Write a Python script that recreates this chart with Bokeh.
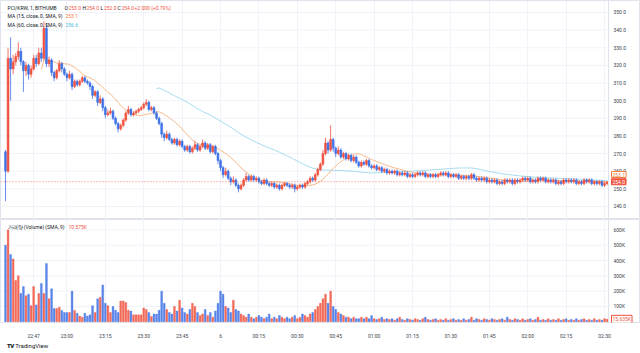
import pandas as pd
from bokeh.plotting import figure
from bokeh.layouts import column
from bokeh.models import ColumnDataSource, FixedTicker, Label, Span, Div, Range1d
from bokeh.core.properties import value
from bokeh.embed import file_html
from bokeh.resources import INLINE

# ---------------- data (1-minute candles, PCI/KRW, from 22:36) ----------------
first_open = 271
close = [
    260, 324, 318, 322, 325, 328, 322, 317, 320, 315,
    318, 324, 321, 327, 324, 341, 321, 323, 316, 313,
    317, 321, 318, 315, 313, 315, 308, 311, 309, 311,
    313, 311, 310, 308, 303, 305, 299, 301, 296, 292,
    293, 294, 290, 287, 284, 286, 289, 293, 295, 292,
    293, 294, 295, 296, 298, 299, 295, 296, 293, 290,
    287, 281, 279, 281, 278, 276, 278, 275, 277, 274,
    272, 274, 271, 273, 275, 272, 274, 276, 273, 275,
    271, 274, 270, 266, 262, 258, 260, 256, 254, 255,
    252, 250, 252, 255, 257, 255, 257, 255, 256, 254,
    253, 255, 253, 252, 253, 251, 252, 250, 252, 253,
    252, 251, 252, 250, 251, 252, 251, 253, 254, 256,
    255, 258, 261, 264, 270, 276, 272, 278, 273, 270,
    272, 268, 270, 267, 269, 266, 268, 265, 263, 265,
    264, 266, 263, 262, 263, 261, 262, 260, 261, 259,
    260, 259, 260, 258, 259, 258, 259, 257, 258, 257,
    258, 259, 258, 259, 257, 258, 257, 258, 257, 258,
    259, 258, 259, 257, 258, 257, 258, 256, 257, 256,
    257, 256, 258, 256, 255, 256, 255, 256, 254, 255,
    254, 255, 253, 254, 253, 255, 254, 255, 253, 255,
    254, 255, 256, 255, 256, 254, 255, 254, 256, 255,
    256, 254, 255, 254, 255, 253, 254, 253, 255, 254,
    255, 254, 255, 253, 254, 253, 255, 254, 255, 253,
    254, 253, 254, 252, 253, 254,
]
high = [
    272, 330, 336, 326, 327, 333, 330, 323, 322, 321,
    320, 326, 326, 330, 330, 345, 344, 325, 324, 317,
    318, 323, 322, 319, 316, 317, 316, 312, 312, 312,
    314, 314, 312, 311, 309, 306, 306, 303, 302, 297,
    295, 296, 295, 291, 288, 287, 290, 294, 297, 296,
    294, 295, 296, 297, 299, 301, 300, 297, 297, 294,
    291, 288, 282, 283, 282, 279, 279, 279, 278, 278,
    275, 275, 275, 274, 277, 276, 275, 278, 277, 276,
    276, 275, 275, 271, 267, 263, 262, 261, 257, 257,
    256, 253, 253, 256, 259, 258, 258, 258, 257, 257,
    255, 256, 256, 254, 254, 254, 253, 253, 253, 254,
    254, 253, 253, 253, 252, 253, 253, 254, 255, 257,
    257, 259, 262, 265, 272, 279, 277, 286, 279, 274,
    274, 273, 271, 271, 270, 270, 269, 269, 266, 266,
    266, 267, 267, 264, 264, 264, 263, 263, 262, 262,
    261, 261, 261, 261, 260, 260, 260, 260, 259, 259,
    259, 260, 260, 260, 260, 259, 259, 259, 259, 259,
    260, 260, 260, 260, 259, 259, 259, 259, 258, 258,
    258, 258, 259, 259, 257, 257, 257, 257, 257, 256,
    256, 256, 256, 255, 255, 256, 256, 256, 256, 256,
    256, 256, 257, 257, 257, 257, 256, 256, 257, 257,
    257, 257, 256, 256, 256, 256, 255, 255, 256, 256,
    256, 256, 256, 256, 255, 255, 256, 256, 256, 256,
    255, 255, 255, 255, 254, 254,
]
low = [
    243, 259, 300, 315, 320, 323, 320, 305, 314, 312,
    313, 317, 319, 320, 322, 323, 319, 319, 314, 311,
    312, 316, 316, 314, 311, 312, 306, 307, 308, 308,
    310, 310, 309, 306, 301, 302, 297, 298, 294, 290,
    291, 292, 289, 286, 282, 283, 285, 288, 292, 291,
    291, 292, 293, 294, 295, 297, 294, 294, 292, 289,
    286, 279, 277, 278, 277, 275, 275, 274, 274, 273,
    271, 271, 270, 270, 272, 271, 271, 273, 272, 272,
    270, 270, 269, 264, 260, 256, 257, 255, 252, 253,
    251, 248, 249, 251, 254, 254, 254, 254, 254, 253,
    252, 252, 252, 251, 251, 250, 250, 249, 249, 251,
    251, 250, 250, 248, 249, 250, 250, 250, 252, 253,
    254, 254, 257, 260, 263, 269, 270, 271, 271, 268,
    269, 267, 267, 266, 266, 265, 265, 264, 262, 262,
    263, 263, 262, 261, 261, 260, 260, 259, 259, 258,
    258, 258, 258, 257, 257, 257, 257, 256, 256, 256,
    256, 257, 257, 257, 256, 256, 256, 256, 256, 256,
    257, 257, 257, 256, 256, 256, 256, 255, 255, 255,
    255, 255, 255, 255, 254, 254, 254, 254, 253, 253,
    253, 253, 252, 252, 252, 252, 253, 253, 252, 252,
    253, 253, 254, 254, 254, 253, 253, 253, 253, 254,
    254, 253, 253, 253, 253, 252, 252, 252, 252, 253,
    253, 253, 253, 252, 252, 252, 252, 253, 253, 252,
    252, 252, 252, 251, 251, 252,
]
volume_k = [
    500, 600, 440, 410, 270, 300, 185, 230, 170, 180,
    105, 230, 110, 185, 250, 185, 380, 150, 215, 86,
    86, 95, 74, 60, 60, 60, 200, 74, 55, 37,
    30, 55, 37, 45, 105, 60, 150, 160, 240, 120,
    105, 60, 100, 75, 60, 135, 135, 125, 75, 70,
    45, 45, 45, 45, 90, 80, 60, 35, 50, 50,
    75, 200, 120, 80, 60, 50, 100, 70, 140, 90,
    60, 50, 80, 120, 100, 60, 40, 50, 80, 40,
    60, 30, 70, 120, 200, 180, 100, 90, 60, 140,
    80, 70, 50, 40, 30, 50, 30, 20, 30, 40,
    30, 20, 30, 50, 20, 30, 20, 40, 30, 20,
    30, 20, 30, 40, 20, 30, 50, 40, 30, 50,
    60, 80, 100, 120, 150, 180, 120, 200, 100, 80,
    60, 50, 40, 30, 30, 20, 30, 20, 20, 30,
    20, 30, 20, 40, 20, 15, 20, 30, 15, 20,
    15, 20, 10, 20, 30, 15, 10, 20, 15, 10,
    20, 15, 10, 20, 30, 15, 10, 15, 20, 10,
    15, 10, 20, 10, 15, 20, 10, 15, 10, 20,
    10, 15, 30, 10, 20, 15, 10, 20, 15, 10,
    20, 15, 10, 15, 20, 10, 30, 15, 10, 20,
    15, 10, 20, 10, 15, 20, 10, 15, 30, 10,
    15, 10, 20, 10, 15, 10, 20, 10, 15, 20,
    10, 15, 10, 20, 10, 15, 20, 10, 15, 10,
    20, 10, 15, 10, 20, 15.635,
]
time_ticks = [11, 24, 39, 54, 69, 84, 99, 114, 129, 144, 159, 174, 189, 204, 219, 234]
time_labels = ["22:47", "23:00", "23:15", "23:30", "23:45", "6", "00:15", "00:30",
               "00:45", "01:00", "01:15", "01:30", "01:45", "02:00", "02:15", "02:30"]
price_ticks = [240, 250, 260, 270, 280, 290, 300, 310, 320, 330, 340, 350]
price_tick_labels = ["240.0", "250.0", "260.0", "270.0", "280.0", "290.0",
                     "300.0", "310.0", "320.0", "330.0", "340.0", "350.0"]
vol_ticks = [100, 200, 300, 400, 500, 600]
vol_tick_labels = ["100K", "200K", "300K", "400K", "500K", "600K"]
last_price = 254.0
ma15_last = 253.1

# ---------------- styling ----------------
UP = "#f0533f"
DOWN = "#3f72e5"
TXT = "#131722"
AXTXT = "#3b3f4a"
GRID = "#f0f3fa"
BORDER = "#e0e3eb"
FONT = "Roboto"
FS = "5px"

n = len(close)
xs = list(range(n))
opens = [first_open] + close[:-1]
colors = [UP if c >= o else DOWN for o, c in zip(opens, close)]
tops = [max(o, c) for o, c in zip(opens, close)]
bots = [min(o, c) for o, c in zip(opens, close)]
ma15 = pd.Series(close, dtype=float).rolling(15).mean()
ma60 = pd.Series(close, dtype=float).rolling(60).mean()

src = ColumnDataSource(dict(x=xs, o=opens, c=close, h=high, l=low, top=tops, bot=bots,
                            col=colors, vol=volume_k, ma15=ma15, ma60=ma60))

W = 640
PXU = 2.56                       # pixels per minute
XR = Range1d(-1.95, -1.95 + W / PXU)
PANE_R = 608                     # right edge of the plotting pane (px)
AX_X = 613                       # left edge of the scale labels (px)
H1 = 219
H2F = 109
P_LO, P_HI = 232.6, 356.8
V_LO, V_HI = -5, 668


def px_to_x(px):
    return XR.start + px / PXU


def py_to_price(py):
    return P_HI - py * (P_HI - P_LO) / H1


def py_to_vol(py):
    return V_HI - (py - H1) * (V_HI - V_LO) / H2F


def lab(fig, px, y, text, color=TXT, size=FS, **kw):
    fig.add_layout(Label(x=px_to_x(px), y=y, text=text, text_color=color,
                         text_font=FONT, text_font_size=size, text_align="left",
                         text_baseline="middle", **kw))


# ================= price pane =================
p1 = figure(width=W, height=H1, x_range=XR, y_range=Range1d(P_LO, P_HI),
            output_backend="svg", toolbar_location=None,
            x_axis_location=None, y_axis_location=None,
            min_border_left=0, min_border_right=0, min_border_top=0, min_border_bottom=0)
p1.xgrid.ticker = FixedTicker(ticks=time_ticks)
p1.xgrid.grid_line_color = GRID
p1.ygrid.grid_line_color = None
p1.outline_line_color = BORDER

# horizontal grid lines limited to the pane, scale border
p1.segment(x0=XR.start, x1=px_to_x(PANE_R), y0=price_ticks, y1=price_ticks,
           line_color=GRID, line_width=1)
p1.add_layout(Span(location=px_to_x(PANE_R), dimension="height",
                   line_color=BORDER, line_width=1))

p1.line("x", "ma60", source=src, line_color="#8fd3e8", line_width=1, line_alpha=0.8)
p1.line("x", "ma15", source=src, line_color="#f8a86a", line_width=1, line_alpha=0.8)
p1.segment("x", "h", "x", "l", source=src, line_color="col", line_width=0.8)
p1.vbar(x="x", width=0.72, top="top", bottom="bot", source=src,
        fill_color="col", line_color="col", line_width=0.6)

# last price dotted line
p1.segment(x0=[XR.start], x1=[px_to_x(PANE_R)], y0=[last_price], y1=[last_price],
           line_color=UP, line_dash="1 2", line_width=1, line_alpha=0.8)

# price scale labels
p1.text(x=[px_to_x(AX_X)] * len(price_ticks), y=price_ticks, text=price_tick_labels,
        text_font=value(FONT), text_font_size=value(FS), text_color=AXTXT,
        text_align="left", text_baseline="middle")

# legend rows
r1 = py_to_price(7)
lab(p1, 7, r1, "PCI/KRW, 1, BITHUMB")
lab(p1, 64, r1, "O")
lab(p1, 68, r1, "253.0", UP)
lab(p1, 82, r1, "H")
lab(p1, 86, r1, "254.0", UP)
lab(p1, 100, r1, "L")
lab(p1, 103.5, r1, "252.0", UP)
lab(p1, 117, r1, "C")
lab(p1, 121, r1, "254.0", UP)
lab(p1, 134, r1, "+2.000 (+0.79%)", UP)
r2 = py_to_price(15.5)
lab(p1, 7, r2, "MA (15, close, 0, SMA, 9)")
lab(p1, 65, r2, "253.1", "#f57c3a")
r3 = py_to_price(24)
lab(p1, 7, r3, "MA (60, close, 0, SMA, 9)")
lab(p1, 65, r3, "256.6", "#4fb8e0")

# scale badges
lab(p1, 611, py_to_price(174), "253.1", "#f57c3a", size="5px",
    background_fill_color="white", border_line_color="#f57c3a", padding=1)
lab(p1, 611, last_price, "254.0", "white", size="5px",
    background_fill_color=UP, border_line_color=UP, padding=1)

# ================= volume pane =================
p2 = figure(width=W, height=H2F + 13, x_range=XR, y_range=Range1d(V_LO, V_HI),
            output_backend="svg", toolbar_location=None, y_axis_location=None,
            min_border_left=0, min_border_right=0, min_border_top=0, min_border_bottom=0)
p2.xgrid.ticker = FixedTicker(ticks=time_ticks)
p2.xgrid.grid_line_color = GRID
p2.ygrid.grid_line_color = None
p2.xaxis.ticker = FixedTicker(ticks=time_ticks)
p2.xaxis.major_label_overrides = {t: s for t, s in zip(time_ticks, time_labels)}
p2.xaxis.axis_line_color = None
p2.xaxis.major_tick_line_color = None
p2.xaxis.minor_tick_line_color = None
p2.xaxis.major_label_text_font = FONT
p2.xaxis.major_label_text_font_size = FS
p2.xaxis.major_label_text_color = AXTXT
p2.xaxis.major_label_standoff = 4
p2.outline_line_color = BORDER

p2.segment(x0=XR.start, x1=px_to_x(PANE_R), y0=vol_ticks, y1=vol_ticks,
           line_color=GRID, line_width=1)
p2.add_layout(Span(location=px_to_x(PANE_R), dimension="height",
                   line_color=BORDER, line_width=1))

p2.vbar(x="x", width=0.72, top="vol", bottom=0, source=src,
        fill_color="col", line_color="col", line_width=0.4, fill_alpha=0.85, line_alpha=0.85)

p2.text(x=[px_to_x(AX_X)] * len(vol_ticks), y=vol_ticks, text=vol_tick_labels,
        text_font=value(FONT), text_font_size=value(FS), text_color=AXTXT,
        text_align="left", text_baseline="middle")

vh = py_to_vol(227)
lab(p2, 7, vh, "거래량 (Volume) (SMA, 9)")
lab(p2, 68, vh, "10.575K", UP)
lab(p2, 611, volume_k[-1], "15.635K", UP, size="5px",
    background_fill_color="white", border_line_color=UP, padding=1)

footer = Div(width=W, height=12, margin=(0, 0, 0, 0),
             text='<span style="font-weight:900;letter-spacing:-0.5px">TV</span> TradingView',
             styles={"font-family": "Roboto", "font-size": "6px", "color": TXT,
                     "padding-left": "7px", "line-height": "10px"})

layout = column(p1, p2, footer, spacing=0)
open("out.html", "w").write(file_html(layout, INLINE))
